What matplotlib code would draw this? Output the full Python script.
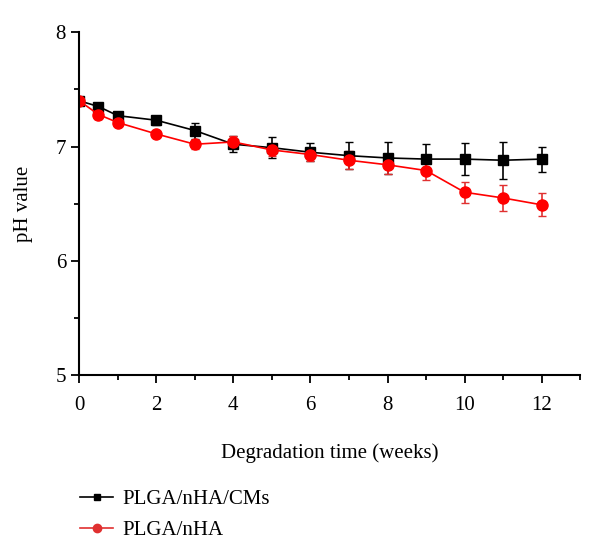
import matplotlib
matplotlib.use('Agg')
import matplotlib.pyplot as plt
from matplotlib.lines import Line2D
from matplotlib.ticker import MultipleLocator

weeks = [0, 0.5, 1, 2, 3, 4, 5, 6, 7, 8, 9, 10, 11, 12]
ph_cms = [7.40, 7.35, 7.27, 7.23, 7.14, 7.02, 6.99, 6.95, 6.92, 6.90, 6.89, 6.89, 6.88, 6.89]
err_cms = [0.02, 0.02, 0.02, 0.04, 0.07, 0.07, 0.09, 0.08, 0.12, 0.14, 0.13, 0.14, 0.16, 0.11]
ph_nha = [7.40, 7.28, 7.21, 7.11, 7.02, 7.04, 6.97, 6.93, 6.88, 6.84, 6.79, 6.60, 6.55, 6.49]
err_nha = [0.02, 0.04, 0.02, 0.02, 0.04, 0.05, 0.05, 0.06, 0.08, 0.08, 0.08, 0.09, 0.11, 0.10]

plt.rcParams['font.family'] = ['Liberation Serif', 'DejaVu Serif']

fig = plt.figure(figsize=(6, 5.55), dpi=100)
ax = fig.add_axes([0.132, 0.324, 0.835, 0.618])

ax.errorbar(weeks, ph_cms, yerr=err_cms, color='black', marker='s', markersize=7,
            capsize=3, elinewidth=1.2, linewidth=1.2)
ax.errorbar(weeks, ph_nha, yerr=err_nha, color='red', ecolor='#e03030', marker='o', markersize=8,
            capsize=3, elinewidth=1.2, linewidth=1.2)

ax.set_xlim(0, 13)
ax.set_ylim(5, 8)
ax.xaxis.set_major_locator(MultipleLocator(2))
ax.xaxis.set_minor_locator(MultipleLocator(1))
ax.yaxis.set_major_locator(MultipleLocator(1))
ax.yaxis.set_minor_locator(MultipleLocator(0.5))
ax.spines['top'].set_visible(False)
ax.spines['right'].set_visible(False)
for s in ('left', 'bottom'):
    ax.spines[s].set_linewidth(1.5)
ax.tick_params(which='major', length=6, width=1.3, labelsize=15, direction='out')
ax.tick_params(axis='x', which='major', pad=9)
ax.tick_params(which='minor', length=3.5, width=1.3, direction='out')
ax.set_xlabel('Degradation time (weeks)', fontsize=15, labelpad=20)
ax.set_ylabel('pH value', fontsize=15, labelpad=16)

handles = [Line2D([], [], color='black', marker='s', markersize=5, linewidth=1.2),
           Line2D([], [], color='#e03030', marker='o', markersize=6, linewidth=1.2)]
fig.legend(handles, ['PLGA/nHA/CMs', 'PLGA/nHA'], loc='upper left',
           bbox_to_anchor=(0.102, 1 - 471 / 555), frameon=False, fontsize=15,
           handlelength=1.6, handletextpad=0.45, labelspacing=0.55)

fig.savefig('out.png', dpi=100)
